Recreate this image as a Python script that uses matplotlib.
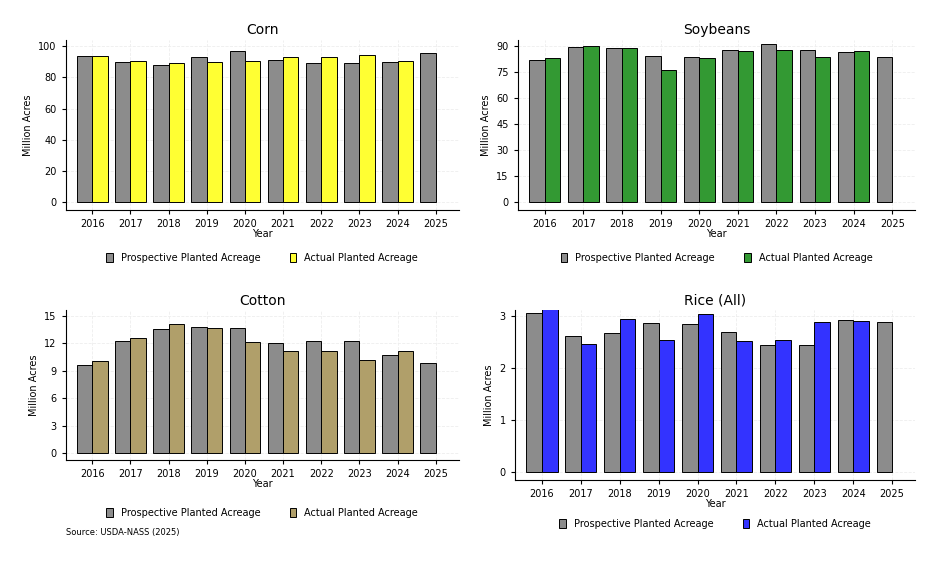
import numpy as np
import matplotlib.pyplot as plt

years = [2016, 2017, 2018, 2019, 2020, 2021, 2022, 2023, 2024, 2025]

corn_prosp = [93.6, 90.0, 88.0, 92.8, 97.0, 91.1, 89.5, 89.5, 90.0, 95.3]
corn_actual = [94.0, 90.2, 89.1, 89.7, 90.8, 93.3, 93.2, 94.6, 90.6]
soy_prosp = [82.2, 89.5, 89.0, 84.6, 83.5, 87.6, 91.0, 87.5, 86.5, 83.5]
soy_actual = [83.4, 90.2, 89.2, 76.1, 83.1, 87.2, 87.5, 83.6, 87.1]
cotton_prosp = [9.6, 12.2, 13.5, 13.8, 13.7, 12.0, 12.2, 12.2, 10.7, 9.9]
cotton_actual = [10.1, 12.6, 14.1, 13.7, 12.1, 11.2, 11.2, 10.2, 11.2]
rice_prosp = [3.06, 2.63, 2.69, 2.87, 2.85, 2.71, 2.45, 2.45, 2.93, 2.89]
rice_actual = [3.15, 2.46, 2.95, 2.55, 3.04, 2.53, 2.54, 2.89, 2.91]

panels = [
    ("Corn", corn_prosp, corn_actual, "#ffff33", [0, 20, 40, 60, 80, 100]),
    ("Soybeans", soy_prosp, soy_actual, "#339933", [0, 15, 30, 45, 60, 75, 90]),
    ("Cotton", cotton_prosp, cotton_actual, "#b09f6a", [0, 3, 6, 9, 12, 15]),
    ("Rice (All)", rice_prosp, rice_actual, "#3333ff", [0, 1, 2, 3]),
]

fig = plt.figure(figsize=(9.36, 5.62), dpi=100)
# (rect, legend offset)
positions = [((0.07, 0.626, 0.42, 0.303), -0.28),
             ((0.553, 0.626, 0.425, 0.303), -0.28),
             ((0.07, 0.181, 0.42, 0.267), -0.35),
             ((0.55, 0.146, 0.428, 0.302), -0.26)]
gray = "#8c8c8c"
w = 0.4
x = np.arange(len(years))
for (title, prosp, actual, col, yt), (pos, loff) in zip(panels, positions):
    ax = fig.add_axes(pos)
    ax.bar(x - w / 2, prosp, w, color=gray, edgecolor="black", linewidth=0.7,
           label="Prospective Planted Acreage", zorder=3)
    ax.bar(x[:len(actual)] + w / 2, actual, w, color=col, edgecolor="black",
           linewidth=0.7, label="Actual Planted Acreage", zorder=3)
    ax.set_title(title, fontsize=10, pad=4)
    ax.set_xticks(x)
    ax.set_xticklabels(years, fontsize=7)
    ax.set_yticks(yt)
    ax.tick_params(axis="both", labelsize=7, length=3)
    ax.set_ylim(-yt[-1] * 0.05, yt[-1] * 1.04)
    ax.set_xlim(-0.7, 9.6)
    ax.set_ylabel("Million Acres", fontsize=7)
    ax.set_xlabel("Year", fontsize=7, labelpad=0)
    ax.grid(True, color="#eeeeee", linestyle="--", linewidth=0.6, zorder=0)
    for s in ["top", "right"]:
        ax.spines[s].set_visible(False)
    ax.legend(loc="center", bbox_to_anchor=(0.5, loff), ncol=2,
              frameon=False, fontsize=7, handlelength=0.7, handleheight=1.0,
              columnspacing=3)

fig.text(0.07, 0.048, "Source: USDA-NASS (2025)", fontsize=6)
fig.savefig("out.png")
